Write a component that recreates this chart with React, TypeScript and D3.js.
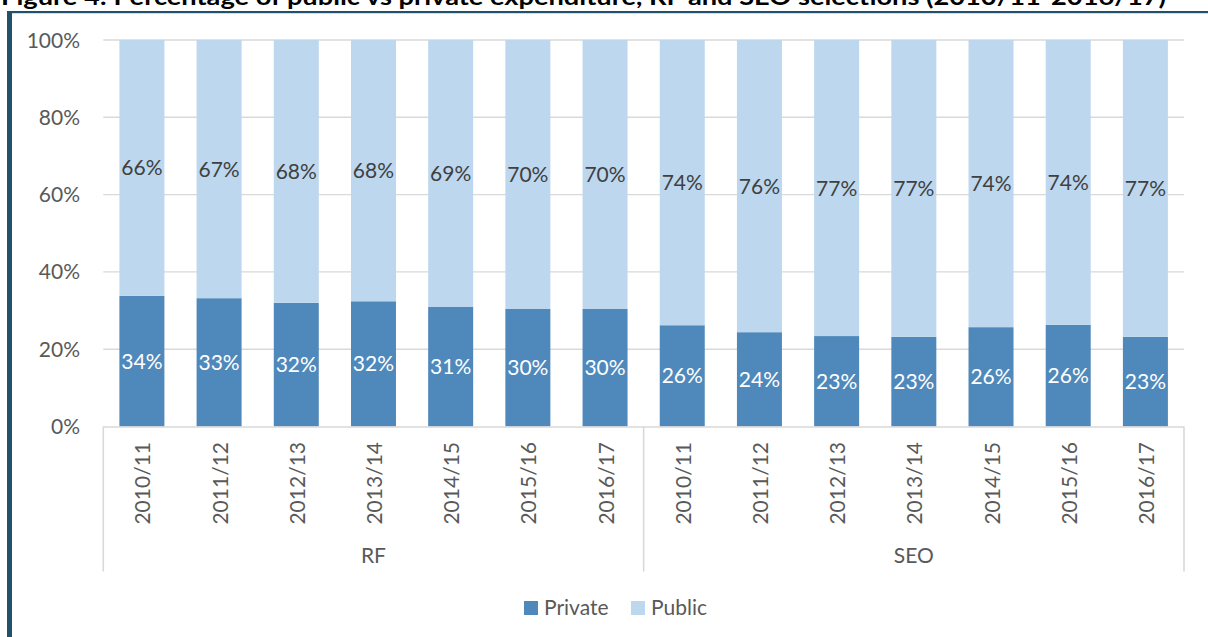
import React from "react";
import * as d3 from "d3";

const title = "Figure 4: Percentage of public vs private expenditure, RF and SEO selections (2010/11-2016/17)";
const years = ["2010/11", "2011/12", "2012/13", "2013/14", "2014/15", "2015/16", "2016/17"];
const groups = ["RF", "SEO"];
const privateRF = [33.8, 33.2, 32.0, 32.4, 31.0, 30.4, 30.4];
const publicRF = [66.2, 66.8, 68.0, 67.6, 69.0, 69.6, 69.6];
const privateSEO = [26.2, 24.4, 23.4, 23.2, 25.7, 26.3, 23.2];
const publicSEO = [73.8, 75.6, 76.6, 76.8, 74.3, 73.7, 76.8];
const yTicks = [0, 20, 40, 60, 80, 100];
const seriesNames = ["Private", "Public"];

const W = 1208;
const H = 637;
const FONT = "Lato, 'Open Sans', sans-serif";
const PRIVATE_COLOR = "#4f89bb";
const PUBLIC_COLOR = "#bdd7ee";
const GRID = "#d9d9d9";
const TEXT = "#595959";

type Row = { key: string; group: string; year: string; priv: number; pub: number };

const rows: Row[] = [];
groups.forEach((g, gi) => {
  const pv = gi === 0 ? privateRF : privateSEO;
  const pb = gi === 0 ? publicRF : publicSEO;
  years.forEach((y, i) => {
    rows.push({ key: g + "|" + y, group: g, year: y, priv: pv[i], pub: pb[i] });
  });
});

export default function App() {
  const left = 103.3;
  const right = 1184;
  const top = 40;
  const bottom = 426.5;
  const x = d3.scaleBand<string>().domain(rows.map((r) => r.key)).range([left, right]).paddingInner(0.417).paddingOuter(0.2085);
  const y = d3.scaleLinear().domain([0, 100]).range([bottom, top]);
  const stack = d3.stack<Row>().keys(["priv", "pub"]).value((d, k) => (d as any)[k]);
  const series = stack(rows);
  const colors = [PRIVATE_COLOR, PUBLIC_COLOR];
  const labelColors = ["#ffffff", "#404040"];
  const step = x.step();
  const axisBottom = 571.5;
  const groupBounds = groups.map((g, gi) => {
    const s = left + gi * years.length * step;
    const e = left + (gi + 1) * years.length * step;
    return { g, s, e };
  });

  return (
    <svg width={W} height={H} viewBox={`0 0 ${W} ${H}`} style={{ position: "absolute", left: 0, top: 0, display: "block", background: "#fff" }}>
      <rect x={0} y={0} width={W} height={H} fill="#fff" />
      {/* Title (partially cut at top) */}
      <text x={1} y={5} fontFamily={FONT} fontWeight={700} fontSize={22} fill="#000" textLength={1165} lengthAdjust="spacingAndGlyphs">
        {title}
      </text>
      {/* frame */}
      <rect x={7} y={11} width={W - 7} height={2.2} fill="#22526b" />
      <rect x={7} y={11} width={5} height={H - 11} fill="#22526b" />

      {/* gridlines */}
      {yTicks.filter((t) => t > 0).map((t) => (
        <line key={t} x1={left} x2={right} y1={y(t)} y2={y(t)} stroke={GRID} strokeWidth={1.4} />
      ))}
      {/* y tick labels */}
      {yTicks.map((t) => (
        <text key={"yl" + t} x={80} y={y(t)} dy="0.36em" textAnchor="end" fontFamily={FONT} fontSize={21} fill={TEXT}>
          {t + "%"}
        </text>
      ))}

      {/* bars */}
      {series.map((s, si) => (
        <g key={s.key}>
          {s.map((d) => (
            <rect
              key={d.data.key}
              x={x(d.data.key)}
              width={x.bandwidth()}
              y={y(d[1])}
              height={y(d[0]) - y(d[1])}
              fill={colors[si]}
            />
          ))}
        </g>
      ))}
      {/* data labels */}
      {series.map((s, si) => (
        <g key={"lab" + s.key}>
          {s.map((d) => (
            <text
              key={d.data.key}
              x={(x(d.data.key) as number) + x.bandwidth() / 2}
              y={(y(d[0]) + y(d[1])) / 2}
              dy="0.36em"
              textAnchor="middle"
              fontFamily={FONT}
              fontSize={21}
              fill={labelColors[si]}
            >
              {Math.round(d[1] - d[0]) + "%"}
            </text>
          ))}
        </g>
      ))}

      {/* category axis */}
      <line x1={left} x2={right} y1={bottom + 0.5} y2={bottom + 0.5} stroke={GRID} strokeWidth={1.6} />
      {[left, ...groupBounds.map((b) => b.e)].map((bx, i) => (
        <line key={"sep" + i} x1={bx} x2={bx} y1={bottom} y2={axisBottom} stroke={GRID} strokeWidth={1.6} />
      ))}
      {rows.map((r) => {
        const cx = (x(r.key) as number) + x.bandwidth() / 2 + 1;
        return (
          <text
            key={"yr" + r.key}
            transform={`translate(${cx},442) rotate(-90)`}
            textAnchor="end"
            dy="0.36em"
            fontFamily={FONT}
            fontSize={21}
            fill={TEXT}
          >
            {r.year}
          </text>
        );
      })}
      {groupBounds.map((b) => (
        <text key={"grp" + b.g} x={(b.s + b.e) / 2} y={563} textAnchor="middle" fontFamily={FONT} fontSize={21} fill={TEXT}>
          {b.g}
        </text>
      ))}

      {/* legend */}
      {seriesNames.map((n, i) => {
        const lx = i === 0 ? 524 : 631;
        return (
          <g key={"leg" + n}>
            <rect x={lx} y={601} width={14} height={14} fill={colors[i]} />
            <text x={lx + 20} y={615} fontFamily={FONT} fontSize={21} fill={TEXT}>
              {n}
            </text>
          </g>
        );
      })}
    </svg>
  );
}
